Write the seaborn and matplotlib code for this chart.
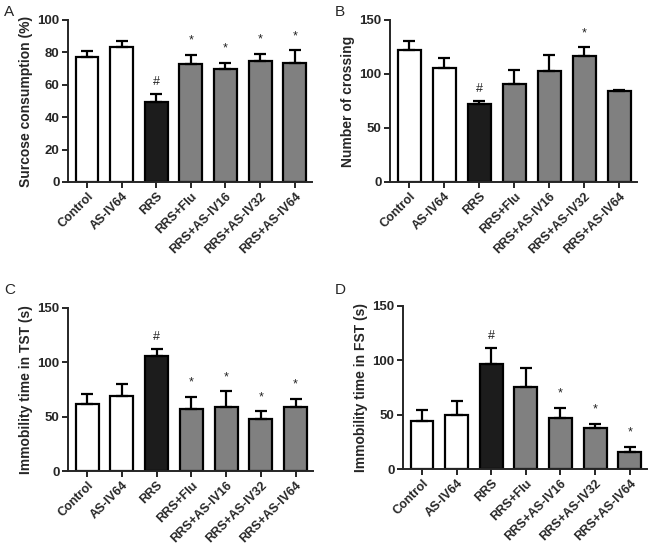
import numpy as np
import matplotlib
matplotlib.use("Agg")
import matplotlib.pyplot as plt
import seaborn as sns

groups = ["Control", "AS-IV64", "RRS", "RRS+Flu", "RRS+AS-IV16", "RRS+AS-IV32", "RRS+AS-IV64"]
bar_colors = ["#ffffff", "#ffffff", "#1c1c1c", "#808080", "#808080", "#808080", "#808080"]

sucrose_mean = [77.3, 83.5, 49.5, 72.6, 69.7, 74.8, 73.2]
sucrose_sem = [3.7, 3.5, 4.9, 5.8, 3.7, 4.2, 8.0]
sucrose_marks = ["", "", "#", "*", "*", "*", "*"]

crossing_mean = [122.2, 105.2, 71.8, 91.0, 102.7, 116.6, 83.8]
crossing_sem = [8.0, 9.6, 3.4, 13.0, 14.5, 8.0, 1.6]
crossing_marks = ["", "", "#", "", "", "*", ""]

tst_mean = [61.3, 69.3, 106.0, 56.7, 58.6, 47.9, 58.9]
tst_sem = [9.3, 10.7, 6.6, 11.7, 14.7, 7.0, 7.7]
tst_marks = ["", "", "#", "*", "*", "*", "*"]

fst_mean = [44.0, 49.3, 96.7, 75.6, 46.8, 37.6, 15.6]
fst_sem = [10.5, 13.4, 14.7, 17.1, 9.2, 3.7, 4.6]
fst_marks = ["", "", "#", "", "*", "*", "*"]

sns.set_style("ticks")
plt.rcParams["font.family"] = ["Liberation Sans", "DejaVu Sans"]

fig = plt.figure(figsize=(6.5, 5.46), dpi=100)

W, H = 650, 546


def make_axes(left, right, top, bottom):
    return fig.add_axes([left / W, 1 - bottom / H, (right - left) / W, (bottom - top) / H])


def panel(ax, means, sems, marks, ylabel, ymax, ystep):
    sns.barplot(x=groups, y=means, hue=groups, palette=bar_colors, legend=False,
                edgecolor="black", linewidth=1.6, width=0.66, ax=ax, errorbar=None)
    x = np.arange(len(groups))
    ax.errorbar(x, means, yerr=[np.zeros(len(groups)), sems], fmt="none",
                ecolor="black", elinewidth=1.6, capsize=4.5, capthick=1.6, zorder=3)
    for xi, m, s, mk in zip(x, means, sems, marks):
        if mk == "":
            continue
        if mk == "#":
            ax.annotate(mk, (xi, m + s), xytext=(0, 4), textcoords="offset points",
                        ha="center", va="bottom", fontsize=9, color="#222222")
        else:
            ax.annotate(mk, (xi, m + s), xytext=(0, 6), textcoords="offset points",
                        ha="center", va="bottom", fontsize=9, color="#222222")
    ax.set_xlim(-0.55, 6.5)
    ax.set_ylim(0, ymax)
    ax.set_yticks(np.arange(0, ymax + 1, ystep))
    ax.set_ylabel(ylabel, fontsize=10, fontweight="bold", labelpad=3)
    ax.set_xlabel("")
    ax.set_xticks(x)
    ax.set_xticklabels(groups, rotation=45, ha="right", rotation_mode="anchor",
                       fontsize=9, fontweight="bold")
    for lab in ax.get_yticklabels():
        lab.set_fontweight("bold")
        lab.set_fontsize(9.5)
    ax.tick_params(axis="both", width=1.4, length=4, pad=2)
    for side in ["left", "bottom"]:
        ax.spines[side].set_linewidth(1.4)
    sns.despine(ax=ax)


ax_a = make_axes(68, 312, 20, 182)
panel(ax_a, sucrose_mean, sucrose_sem, sucrose_marks, "Surcose consumption (%)", 100, 20)
ax_b = make_axes(390, 637, 20, 182)
panel(ax_b, crossing_mean, crossing_sem, crossing_marks, "Number of crossing", 150, 50)
ax_c = make_axes(68, 313, 308, 471)
panel(ax_c, tst_mean, tst_sem, tst_marks, "Immobility time in TST (s)", 150, 50)
ax_d = make_axes(403, 647, 306, 469)
panel(ax_d, fst_mean, fst_sem, fst_marks, "Immobility time in FST (s)", 150, 50)

for letter, px, py in [("A", 4, 12), ("B", 335, 12), ("C", 4, 290), ("D", 335, 290)]:
    fig.text(px / W, 1 - py / H, letter, fontsize=11, va="center", ha="left")

fig.savefig("out.png", dpi=100)
